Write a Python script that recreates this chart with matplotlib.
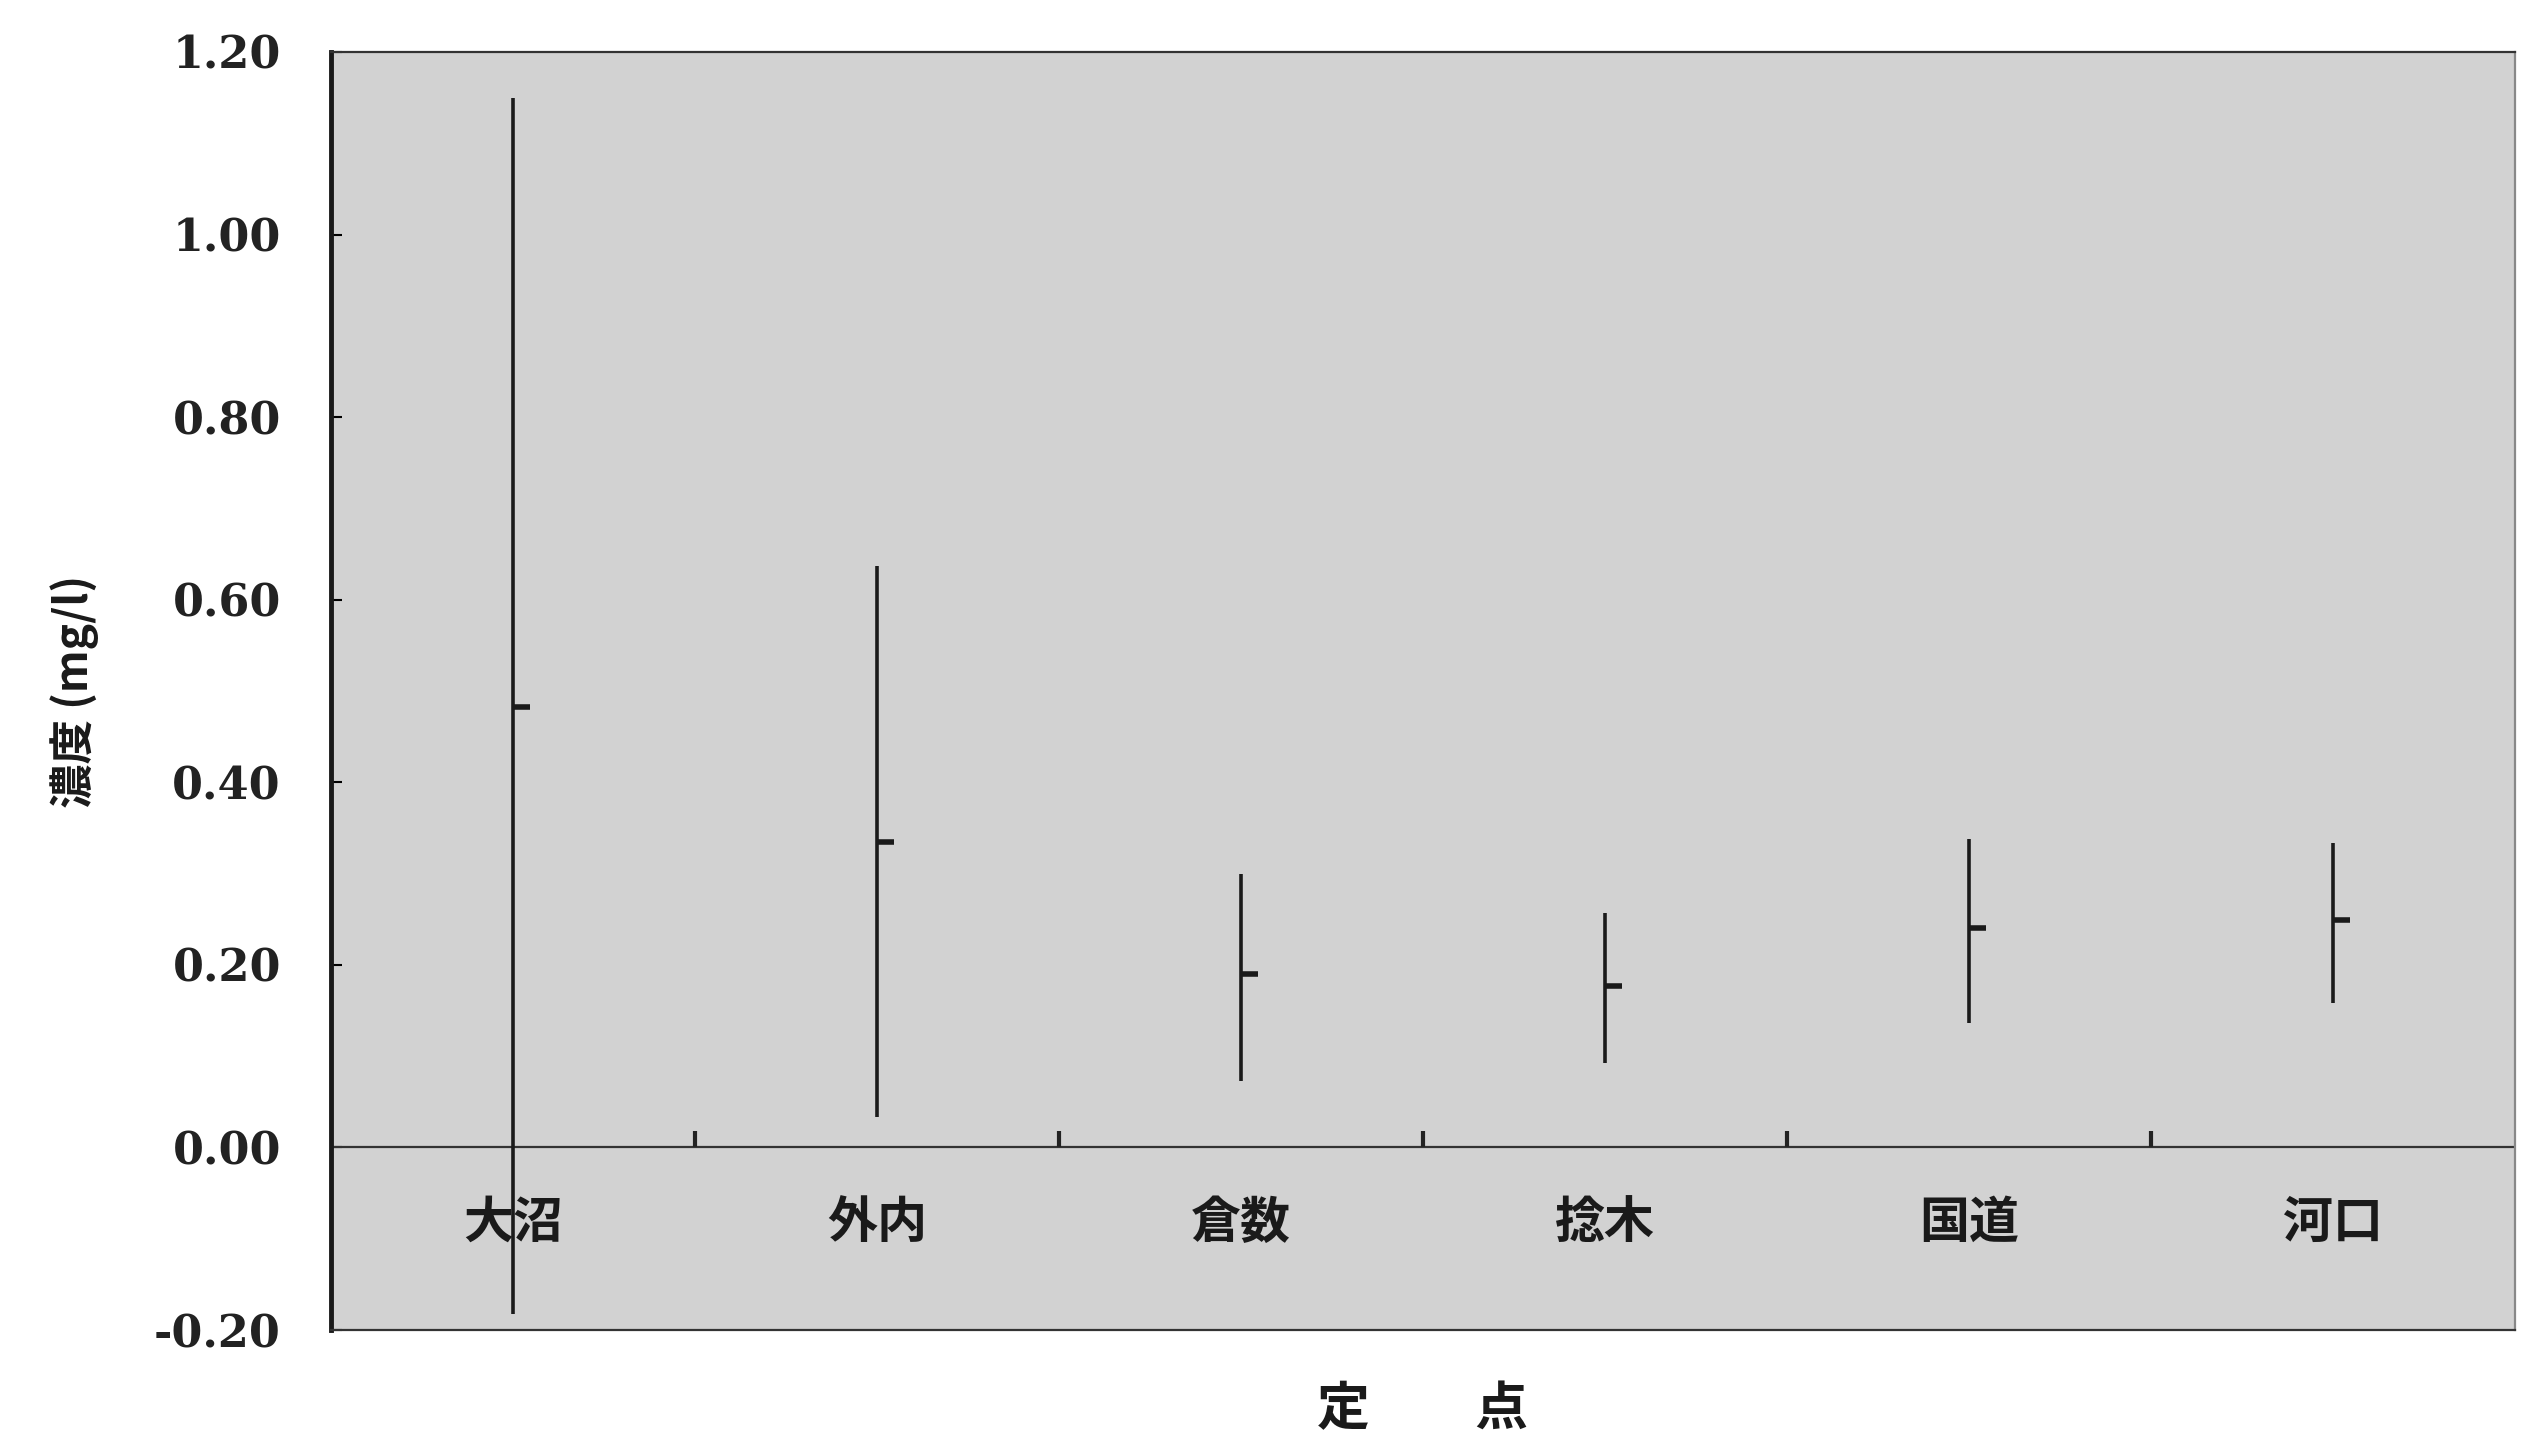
import numpy as np
import matplotlib.pyplot as plt

# 定点ごとの濃度 (mg/l): 最大・最小・平均
sites = ['大沼', '外内', '倉数', '捻木', '国道', '河口']
high = [1.15, 0.637, 0.300, 0.257, 0.338, 0.333]
low = [-0.182, 0.033, 0.073, 0.093, 0.136, 0.158]
mean = [0.482, 0.335, 0.190, 0.177, 0.240, 0.249]
yticks = [-0.2, 0.0, 0.2, 0.4, 0.6, 0.8, 1.0, 1.2]

cjk = ['Noto Sans CJK JP', 'DejaVu Sans']

fig = plt.figure(figsize=(25.36, 14.43), dpi=100)
ax = fig.add_axes([0.1305, 0.0783, 0.8612, 0.8857])
ax.set_facecolor('#d2d2d2')

x = np.arange(len(sites))
ax.vlines(x, low, high, color='#1a1a1a', lw=2.6, zorder=3)
ax.plot(x, mean, linestyle='none', marker=1, markersize=12,
        markeredgewidth=4, color='#1a1a1a', zorder=4)

# ゼロ線と区切り目盛り
ax.axhline(0, color='#333333', lw=1.6, zorder=2)
ax.vlines(x[:-1] + 0.5, 0, 0.018, color='#222222', lw=3, zorder=2)

for xi, name in zip(x, sites):
    ax.text(xi, -0.083, name, ha='center', va='center', fontsize=36,
            fontweight='bold', family=cjk, color='#1a1a1a', zorder=5)

ax.set_xlim(-0.5, len(sites) - 0.5)
ax.set_ylim(-0.2, 1.2)
ax.set_xticks([])
ax.set_yticks(yticks)
ax.set_yticklabels([f'{v:.2f}' for v in yticks], family='DejaVu Serif',
                   fontweight='bold', fontsize=32, color='#222222')
ax.tick_params(axis='y', direction='in', length=8, width=1.5, pad=36)

ax.set_ylabel('濃度 (mg/l)', family=cjk, fontsize=32, fontweight='bold',
              labelpad=40, color='#1a1a1a')
ax.set_xlabel('定　　点', family=cjk, fontsize=38, fontweight='bold',
              labelpad=38, color='#1a1a1a')

for side, spine in ax.spines.items():
    spine.set_color('#333333')
    spine.set_linewidth(1.6)
ax.spines['left'].set_linewidth(3.5)
ax.spines['left'].set_color('#1a1a1a')
ax.spines['right'].set_color('#888888')

fig.savefig('out.png', dpi=100, facecolor='white')
